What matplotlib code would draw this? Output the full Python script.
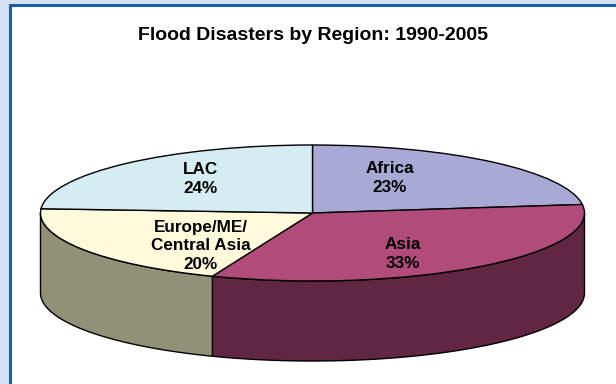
import numpy as np
import matplotlib
matplotlib.use("Agg")
import matplotlib.pyplot as plt
from matplotlib.patches import Wedge, Polygon, Rectangle

# ---- data ----
regions = ["Africa", "Asia", "Europe/ME/\nCentral Asia", "LAC"]
shares = [23, 33, 20, 24]
top_colors = ["#a9a9d6", "#b14b79", "#fffadb", "#d4ecf2"]
side_colors = ["#6c6c94", "#612641", "#919177", "#8aa4ab"]
title = "Flood Disasters by Region: 1990-2005"

# label positions in pie units (x: fraction of radius, y: fraction of radius)
label_pos = [(0.285, 0.515), (0.333, -0.60), (-0.41, -0.485), (-0.41, 0.50)]

W, H = 616, 384
fig = plt.figure(figsize=(W / 100, H / 100), dpi=100)
fig.patch.set_facecolor("#d6e2f3")

# white panel with blue border (extends beyond right/bottom edges)
panel = Rectangle((10 / W, -0.1), 1.2, (H - 5) / H + 0.1, transform=fig.transFigure,
                  facecolor="white", edgecolor="#1d5ca6", linewidth=2.2, zorder=-5)
fig.patches.append(panel)

fig.text(313 / W, 1 - 35 / H, title, ha="center", va="center",
         fontsize=14, fontweight="bold", family="Liberation Sans", color="black")

# pie geometry (pixels)
cx, cy, rx, ry, depth = 312.5, 213.0, 272.0, 68.0, 80.0
ax = fig.add_axes([0, 0, 1, 1])
ax.set_zorder(2)
ax.set_facecolor("none")
ax.set_xlim((0 - cx) / rx, (W - cx) / rx)
ax.set_ylim((cy - H) / ry, (cy - 0) / ry)
ax.axis("off")
d = depth / ry

total = float(sum(shares))
angles = []
start = 90.0
for v in shares:
    sweep = 360.0 * v / total
    angles.append((start - sweep, start))
    start -= sweep

# side walls (front half only: angles between -180 and 0)
for (a, b), sc in zip(angles, side_colors):
    lo, hi = a, b
    while hi > 180:
        lo -= 360; hi -= 360
    lo_c, hi_c = max(lo, -180.0), min(hi, 0.0)
    if lo_c >= hi_c:
        continue
    t = np.radians(np.linspace(lo_c, hi_c, 200))
    top = np.column_stack([np.cos(t), np.sin(t)])
    bot = np.column_stack([np.cos(t[::-1]), np.sin(t[::-1]) - d])
    ax.add_patch(Polygon(np.vstack([top, bot]), closed=True, facecolor=sc,
                         edgecolor="black", linewidth=1.0, zorder=1))

# top faces
for (a, b), tc in zip(angles, top_colors):
    ax.add_patch(Wedge((0, 0), 1.0, a, b, facecolor=tc, edgecolor="black",
                       linewidth=1.0, zorder=2))

# labels
for name, v, (lx, ly) in zip(regions, shares, label_pos):
    ax.text(lx, ly, f"{name}\n{v}%", ha="center", va="center", ma="center",
            fontsize=12.3, fontweight="bold", family="Liberation Sans",
            linespacing=1.3, color="black", zorder=3)

fig.savefig("out.png", dpi=100, facecolor=fig.get_facecolor())
